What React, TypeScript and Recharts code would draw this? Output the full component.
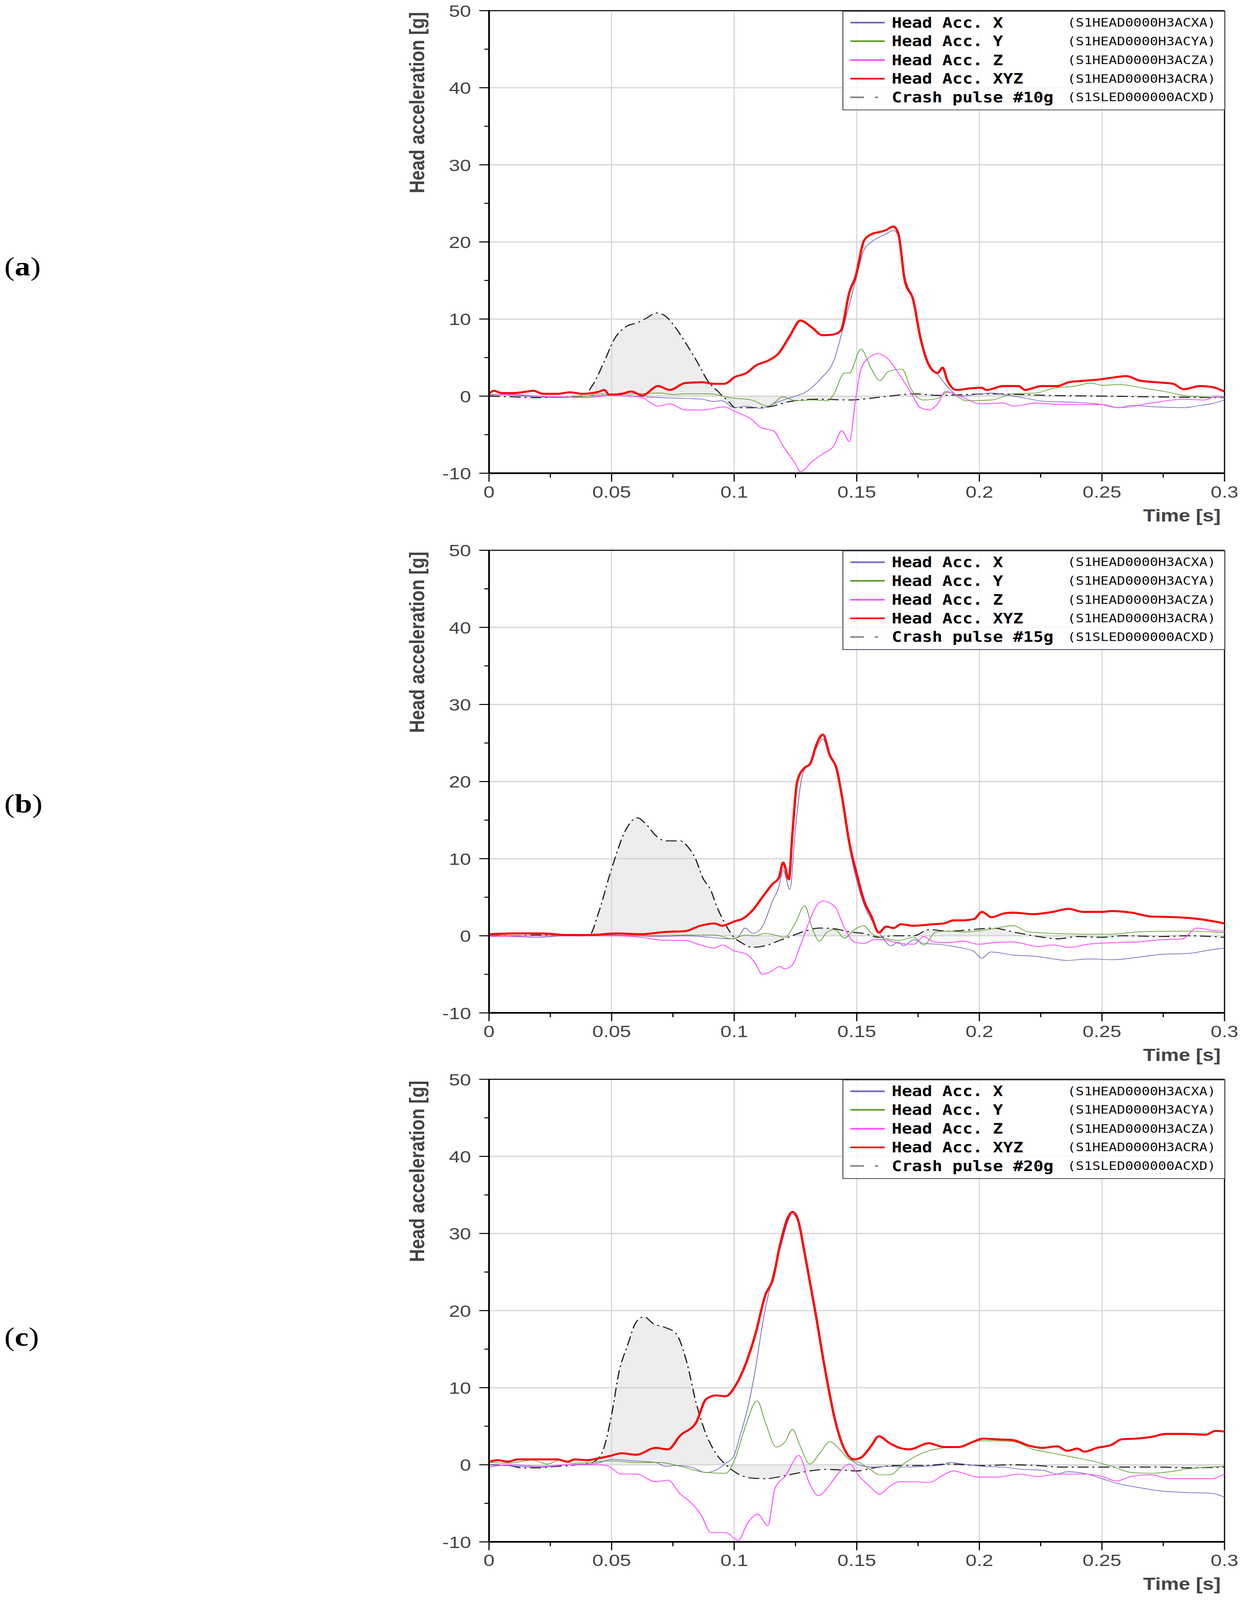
import React from 'react';
import { ComposedChart, Line, Area, XAxis, YAxis, CartesianGrid, ReferenceLine, Legend } from 'recharts';

type P = [number, number];

// ---------- axis ticks ----------
const xMajorTicks = [0, 0.05, 0.1, 0.15, 0.2, 0.25, 0.3];
const xMinorTicks = [0.025, 0.075, 0.125, 0.175, 0.225, 0.275];
const yMajorTicks = [-10, 0, 10, 20, 30, 40, 50];
const yMinorTicks = [-5, 5, 15, 25, 35, 45];
const xTicks = [...xMajorTicks, ...xMinorTicks].sort((a, b) => a - b);
const yTicks = [...yMajorTicks, ...yMinorTicks].sort((a, b) => a - b);

// ---------- legend ----------
const seriesNames = ['Head Acc. X', 'Head Acc. Y', 'Head Acc. Z', 'Head Acc. XYZ'];
const seriesCodes = ['(S1HEAD0000H3ACXA)', '(S1HEAD0000H3ACYA)', '(S1HEAD0000H3ACZA)', '(S1HEAD0000H3ACRA)'];
const seriesColors = ['#7468c4', '#5f9f2f', '#ff4dff', '#ff0000'];
const pulseNames = ['Crash pulse #10g', 'Crash pulse #15g', 'Crash pulse #20g'];
const pulseCode = '(S1SLED000000ACXD)';
const panelLabels = ['a', 'b', 'c'];

// ---------- panel (a) ----------
const aX: P[] = [[0,0.2],[0.01,0.1],[0.02,-0.1],[0.03,-0.2],[0.04,0],[0.05,0.1],[0.06,0],[0.07,-0.2],[0.08,-0.3],[0.087,-0.4],[0.0915,-0.7],[0.095,-0.6],[0.1,-1.5],[0.105,-1.3],[0.111,-1.6],[0.116,-1.0],[0.12,-0.5],[0.125,0],[0.129,0.5],[0.133,1.5],[0.136,2.5],[0.1405,4.5],[0.145,9.5],[0.1495,15.0],[0.153,19.0],[0.156,20.0],[0.1617,21.0],[0.165,21.5],[0.167,20.8],[0.1696,15.5],[0.173,12.5],[0.176,7.5],[0.1795,3.8],[0.183,2.8],[0.187,1.2],[0.192,0],[0.2007,0.3],[0.205,0.4],[0.21,0.2],[0.216,-0.1],[0.2275,-0.7],[0.239,-0.8],[0.25,-1.1],[0.2565,-1.5],[0.262,-1.2],[0.272,-1.4],[0.2833,-1.5],[0.29,-1.2],[0.2946,-1.0],[0.3,-0.5]];
const aY: P[] = [[0,0.2],[0.01,0.2],[0.02,0],[0.03,-0.1],[0.04,0],[0.045,0.3],[0.05,0.2],[0.06,0.3],[0.07,0.4],[0.075,0.2],[0.08,0.3],[0.09,0.3],[0.098,-0.2],[0.107,-0.5],[0.1138,-1.3],[0.12,-0.1],[0.125,-0.6],[0.132,-0.5],[0.138,-0.6],[0.1405,0.2],[0.145,3.0],[0.147,3.0],[0.1517,6.1],[0.156,3.5],[0.1595,2.0],[0.1628,3.2],[0.1685,3.5],[0.172,1.0],[0.177,-0.5],[0.183,-0.3],[0.187,0.5],[0.195,-0.6],[0.205,-0.5],[0.214,0.3],[0.223,0.4],[0.23,1.0],[0.239,1.3],[0.2455,1.7],[0.25,1.4],[0.257,1.5],[0.2677,1.0],[0.2755,0.6],[0.2855,0],[0.3,-0.2]];
const aZ: P[] = [[0,0.1],[0.01,0.2],[0.02,0],[0.03,-0.1],[0.04,-0.2],[0.05,0.1],[0.058,0],[0.0625,-0.2],[0.069,-1.3],[0.0737,-1.0],[0.08,-1.8],[0.087,-1.8],[0.096,-1.4],[0.1004,-2.0],[0.107,-3.0],[0.111,-4.1],[0.116,-4.5],[0.12,-6.5],[0.125,-8.8],[0.127,-9.8],[0.1317,-8.5],[0.136,-7.5],[0.1405,-6.5],[0.1439,-4.5],[0.147,-5.9],[0.1495,-0.5],[0.1517,3.5],[0.155,5.0],[0.1585,5.5],[0.1628,4.8],[0.167,3.0],[0.172,0.5],[0.176,-1.5],[0.1795,-1.8],[0.183,-1.0],[0.1862,0.6],[0.192,0],[0.2007,-1.0],[0.2096,-0.9],[0.214,-1.3],[0.223,-0.9],[0.234,-1.1],[0.25,-1.1],[0.257,-1.5],[0.272,-0.8],[0.2833,-0.4],[0.292,-0.5],[0.2966,0],[0.3,-0.1]];
const aXYZ: P[] = [[0,0.3],[0.002,0.7],[0.005,0.4],[0.01,0.4],[0.0156,0.6],[0.018,0.7],[0.022,0.3],[0.028,0.3],[0.033,0.5],[0.038,0.3],[0.045,0.6],[0.047,0.8],[0.049,0.2],[0.054,0.3],[0.058,0.6],[0.0625,0.1],[0.069,1.3],[0.0737,0.8],[0.08,1.7],[0.087,1.8],[0.0915,1.6],[0.096,1.6],[0.1004,2.5],[0.105,3.0],[0.109,4.0],[0.1138,4.6],[0.118,5.5],[0.1227,7.8],[0.127,9.8],[0.1317,8.9],[0.136,7.9],[0.1405,8.0],[0.1435,8.5],[0.147,13.5],[0.1495,15.5],[0.153,20.2],[0.156,21.0],[0.1595,21.3],[0.1617,21.5],[0.165,22.0],[0.167,21.0],[0.1696,15.0],[0.173,12.5],[0.176,7.5],[0.1795,4.0],[0.183,3.0],[0.185,3.7],[0.187,2.0],[0.1907,0.8],[0.196,1.0],[0.2007,1.1],[0.203,0.8],[0.2096,1.3],[0.216,1.3],[0.2186,0.8],[0.2253,1.3],[0.232,1.3],[0.2364,1.8],[0.243,2.0],[0.25,2.2],[0.2565,2.5],[0.26,2.6],[0.2655,2.0],[0.272,1.8],[0.279,1.6],[0.2833,0.9],[0.29,1.3],[0.2946,1.2],[0.3,0.6]];
const aPulse: P[] = [[0,0],[0.01,-0.1],[0.02,-0.2],[0.03,-0.1],[0.038,0],[0.0424,1.5],[0.047,4.5],[0.0513,7.5],[0.0558,9.0],[0.0602,9.5],[0.0647,10.2],[0.068,10.8],[0.0714,10.5],[0.0758,9.0],[0.08,7.0],[0.0848,4.5],[0.0892,2.0],[0.0937,0.5],[0.098,-0.8],[0.1004,-1.5],[0.107,-1.5],[0.1138,-1.4],[0.1227,-0.7],[0.134,-0.4],[0.147,-0.5],[0.1606,-0.1],[0.174,0.3],[0.183,0.1],[0.205,0.3],[0.2275,0.1],[0.25,0],[0.272,-0.1],[0.3,-0.2]];

// ---------- panel (b) ----------
const bX: P[] = [[0,0],[0.01,-0.1],[0.02,-0.2],[0.03,0],[0.04,0.1],[0.05,0.1],[0.06,0],[0.07,-0.1],[0.08,0],[0.09,-0.2],[0.0984,-0.4],[0.1014,-0.2],[0.1045,1.0],[0.1075,0.3],[0.1115,1.2],[0.1156,4.5],[0.1182,6.3],[0.12,8.5],[0.1227,6.0],[0.125,14],[0.128,21],[0.131,22.5],[0.1338,24.5],[0.1362,25.5],[0.1389,23.3],[0.1419,21.3],[0.144,17.5],[0.147,11.5],[0.153,4],[0.157,1.5],[0.16,0],[0.164,-1.3],[0.167,-0.8],[0.169,-1.3],[0.1733,-0.5],[0.1773,-1.0],[0.1834,-1.1],[0.1915,-1.5],[0.1976,-2.0],[0.201,-2.9],[0.2047,-2.1],[0.2138,-2.5],[0.224,-2.7],[0.23,-3.0],[0.2362,-3.2],[0.2443,-3.0],[0.2544,-3.1],[0.2645,-2.8],[0.2746,-2.4],[0.2848,-2.3],[0.295,-1.8],[0.3,-1.6]];
const bY: P[] = [[0,0.1],[0.02,0],[0.04,0.1],[0.06,0],[0.08,0.1],[0.092,0.1],[0.0994,-0.4],[0.1045,0.1],[0.1085,0],[0.1126,0.3],[0.1166,0.1],[0.1206,-0.2],[0.1247,1.5],[0.1288,3.9],[0.1318,1.0],[0.1348,-0.7],[0.1379,0.5],[0.141,0.8],[0.145,-0.3],[0.149,0.8],[0.153,1.3],[0.156,0.3],[0.1611,-0.3],[0.1672,-0.6],[0.1733,-0.2],[0.1773,-1.2],[0.1824,0.5],[0.1874,0.6],[0.1935,0.5],[0.2037,0.8],[0.2138,1.3],[0.22,0.5],[0.23,0.3],[0.2443,0.2],[0.2544,0.2],[0.2645,0.5],[0.2848,0.6],[0.295,0.5],[0.3,0.4]];
const bZ: P[] = [[0,-0.1],[0.02,0],[0.04,0],[0.0518,0],[0.062,-0.2],[0.072,-0.6],[0.08,-0.6],[0.0862,-1.2],[0.092,-1.6],[0.095,-1.2],[0.1004,-2.0],[0.1045,-2.3],[0.1085,-3.5],[0.1115,-5.0],[0.1146,-4.7],[0.1186,-4.0],[0.1206,-4.3],[0.1237,-3.8],[0.1267,-1.5],[0.1308,2.0],[0.1338,4.0],[0.1362,4.5],[0.141,3.8],[0.145,1.0],[0.149,-0.8],[0.153,-1.0],[0.157,-0.5],[0.1611,-0.5],[0.1672,-1.0],[0.1733,-1.1],[0.1773,-0.1],[0.1814,-0.8],[0.1874,-0.9],[0.1935,-0.7],[0.1996,-1.1],[0.2057,-0.9],[0.2138,-0.8],[0.224,-1.4],[0.23,-1.2],[0.237,-1.5],[0.2443,-1.1],[0.2544,-0.9],[0.2645,-0.8],[0.2746,-0.5],[0.2827,-0.4],[0.2888,1.0],[0.295,0.7],[0.3,0.6]];
const bXYZ: P[] = [[0,0.2],[0.0113,0.3],[0.0215,0.3],[0.0316,0.1],[0.0417,0.1],[0.0518,0.3],[0.062,0.2],[0.072,0.5],[0.08,0.6],[0.0862,1.3],[0.092,1.6],[0.095,1.3],[0.1004,1.9],[0.1034,2.2],[0.1075,3.3],[0.1115,5.0],[0.1156,6.7],[0.1182,7.5],[0.12,9.5],[0.1223,7.3],[0.1237,13],[0.1257,20],[0.1287,21.8],[0.1308,22.2],[0.1338,25],[0.1362,26.1],[0.1389,23.5],[0.1419,21.5],[0.144,18],[0.147,12],[0.15,8],[0.153,4.5],[0.156,2.5],[0.159,0.4],[0.162,1.2],[0.165,1.0],[0.168,1.5],[0.173,1.3],[0.1814,1.5],[0.1855,1.6],[0.1895,2.0],[0.1935,2.0],[0.198,2.2],[0.201,3.1],[0.205,2.4],[0.21,2.9],[0.2138,3.0],[0.222,2.8],[0.23,3.1],[0.2365,3.5],[0.242,3.1],[0.25,3.1],[0.254,3.2],[0.262,3.0],[0.27,2.5],[0.2807,2.4],[0.2888,2.2],[0.295,1.9],[0.3,1.6]];
const bPulse: P[] = [[0,0],[0.01,0],[0.02,0.1],[0.03,0],[0.0407,0],[0.0447,3.0],[0.0498,8.5],[0.0559,13.8],[0.0603,15.3],[0.064,14.5],[0.068,13.0],[0.072,12.3],[0.0781,12.3],[0.0812,11.5],[0.0842,10.0],[0.0872,7.5],[0.0903,6.0],[0.0933,3.5],[0.0964,1.5],[0.0994,0],[0.1035,-1.0],[0.1075,-1.5],[0.1126,-1.3],[0.1186,-0.6],[0.1237,0],[0.1288,0.6],[0.1348,1.0],[0.141,0.9],[0.147,0.5],[0.153,0.3],[0.159,-0.2],[0.165,0],[0.1733,0],[0.1794,0.8],[0.1874,0.6],[0.1935,0.7],[0.2057,1.0],[0.2138,0.5],[0.224,-0.1],[0.232,-0.4],[0.24,-0.1],[0.25,-0.2],[0.2585,0],[0.2746,-0.1],[0.2848,0],[0.3,-0.2]];

// ---------- panel (c) ----------
const cX: P[] = [[0,0],[0.0117,-0.2],[0.0218,-0.3],[0.032,0],[0.044,0.2],[0.05,0.7],[0.06,0.5],[0.068,0.3],[0.072,-0.2],[0.0763,-0.1],[0.0824,-0.3],[0.0885,-1.0],[0.0925,-0.7],[0.0966,0.2],[0.0996,1.0],[0.1026,4.0],[0.1056,7.5],[0.1087,12.5],[0.1117,18.5],[0.1157,24.5],[0.1187,28.0],[0.1238,32.5],[0.1258,31.7],[0.129,26.7],[0.133,19.8],[0.137,12.3],[0.141,5.8],[0.145,2.0],[0.149,0.3],[0.153,-0.2],[0.157,-0.3],[0.1634,-0.2],[0.1694,-0.3],[0.1774,-0.2],[0.1855,0],[0.1874,0.3],[0.1935,0.1],[0.2015,-0.2],[0.2096,-0.3],[0.2178,-0.6],[0.2257,-0.7],[0.2318,-1.2],[0.2358,-0.9],[0.2438,-1.2],[0.25,-1.8],[0.256,-2.4],[0.264,-2.9],[0.274,-3.4],[0.2843,-3.6],[0.2945,-3.7],[0.3,-4.2]];
const cY: P[] = [[0,0.3],[0.0077,0.2],[0.0177,0.6],[0.0238,0.1],[0.0288,0.6],[0.034,0.2],[0.04,0.3],[0.05,0.5],[0.06,0.3],[0.07,0.3],[0.078,-0.2],[0.0885,-1.0],[0.0966,-1.1],[0.1006,1.0],[0.1046,5.0],[0.1094,8.3],[0.1127,5.5],[0.1172,2.3],[0.1208,3.0],[0.1238,4.6],[0.1268,2.5],[0.1308,0.1],[0.1349,1.5],[0.139,3.0],[0.143,2.0],[0.147,0.7],[0.151,0.3],[0.155,-0.5],[0.1593,-1.3],[0.1634,-1.3],[0.1694,0.2],[0.1774,1.6],[0.1855,2.2],[0.1935,2.4],[0.1996,3.1],[0.2057,3.1],[0.2138,3.0],[0.222,2.0],[0.23,1.5],[0.238,1.0],[0.246,0.5],[0.254,-0.2],[0.262,-1.0],[0.27,-1.1],[0.2778,-0.9],[0.2858,-0.5],[0.2945,-0.3],[0.3,-0.2]];
const cZ: P[] = [[0,-0.3],[0.0077,0],[0.0218,-0.2],[0.032,0],[0.044,0],[0.048,-0.1],[0.054,-1.2],[0.06,-1.2],[0.068,-2.2],[0.073,-2.0],[0.078,-3.8],[0.082,-4.8],[0.0865,-6.5],[0.0905,-8.8],[0.0966,-8.8],[0.1016,-9.8],[0.1056,-7.5],[0.1097,-6.4],[0.1137,-7.9],[0.1167,-3.0],[0.1208,-1.5],[0.1264,1.2],[0.1308,-2.5],[0.1343,-4.0],[0.138,-3.0],[0.142,-1.3],[0.147,0.1],[0.151,-1.5],[0.155,-2.7],[0.1593,-3.8],[0.1634,-2.8],[0.1674,-2.2],[0.1734,-2.2],[0.1794,-2.3],[0.1855,-1.3],[0.1895,-0.8],[0.1935,-1.1],[0.1996,-1.6],[0.2076,-1.6],[0.2158,-1.2],[0.2237,-1.5],[0.2337,-1.2],[0.2418,-1.2],[0.25,-1.5],[0.256,-2.1],[0.262,-1.5],[0.27,-1.3],[0.2778,-1.8],[0.2858,-1.8],[0.2945,-1.8],[0.3,-1.2]];
const cXYZ: P[] = [[0,0.4],[0.0036,0.6],[0.0077,0.4],[0.0117,0.7],[0.0218,0.7],[0.0278,0.7],[0.032,0.4],[0.035,0.7],[0.04,0.6],[0.044,0.8],[0.05,1.2],[0.054,1.5],[0.06,1.3],[0.068,2.2],[0.073,2.0],[0.078,3.8],[0.0845,5.5],[0.0885,8.5],[0.0925,9.0],[0.0966,8.9],[0.1006,10.3],[0.1046,13.0],[0.1087,17.0],[0.1127,22.0],[0.1157,24.0],[0.1187,28.5],[0.1218,32.0],[0.1238,32.8],[0.1258,32.0],[0.129,27],[0.133,20],[0.137,12.5],[0.141,6.0],[0.145,2.0],[0.149,0.7],[0.152,1.0],[0.156,2.5],[0.159,3.7],[0.1634,2.8],[0.1674,2.2],[0.1714,2.0],[0.1794,2.8],[0.1855,2.3],[0.1915,2.3],[0.1976,3.0],[0.2015,3.4],[0.2076,3.3],[0.2138,3.2],[0.22,2.5],[0.2257,2.2],[0.2318,2.4],[0.2358,1.8],[0.24,2.1],[0.2428,1.7],[0.248,2.2],[0.254,2.6],[0.258,3.3],[0.264,3.4],[0.27,3.6],[0.276,4.0],[0.2843,4.0],[0.2923,3.9],[0.2964,4.4],[0.3,4.3]];
const cPulse: P[] = [[0,0],[0.008,-0.1],[0.0137,-0.4],[0.0194,-0.4],[0.028,-0.2],[0.036,0],[0.042,0.3],[0.046,1.5],[0.05,6.5],[0.053,12.0],[0.0565,15.5],[0.06,18.5],[0.0632,19.2],[0.067,18.3],[0.072,17.8],[0.0763,17.0],[0.0805,13.5],[0.0845,8.0],[0.0885,4.0],[0.0925,1.5],[0.0966,0],[0.1006,-1.0],[0.1066,-1.7],[0.1127,-1.8],[0.1208,-1.4],[0.129,-0.9],[0.137,-0.6],[0.145,-0.7],[0.15,-0.8],[0.157,-0.4],[0.1654,-0.1],[0.1774,-0.1],[0.1874,0.1],[0.2015,-0.1],[0.2138,0],[0.2237,-0.1],[0.2337,-0.3],[0.2438,-0.3],[0.254,-0.3],[0.264,-0.3],[0.274,-0.3],[0.2843,-0.4],[0.3,-0.3]];

const toRows = (pts: P[]) => pts.map(([t, v]) => ({ t, v }));

const panels = [
  { series: [aX, aY, aZ, aXYZ], pulse: aPulse },
  { series: [bX, bY, bZ, bXYZ], pulse: bPulse },
  { series: [cX, cY, cZ, cXYZ], pulse: cPulse },
];

// ---------- layout constants ----------
const PAGE_W = 3190;
const PAGE_H = 4818;
// the browser viewport is only 4096 px tall, so the 4818 px figure is fitted vertically
const VIEW_H = 4096;
const FIT_Y = VIEW_H / PAGE_H;
const CHART_HEIGHTS = [1625, 1593, 1600];
const MARGIN = { top: 32, right: 55, left: 1052 };
const Y_AXIS_W = 200;
const X_AXIS_H = 100;
const X_TICK_SIZE = 25;
const X_TICK_MARGIN = 12;
const Y_TICK_SIZE = 25;
const Y_TICK_MARGIN = 21;
const PLOT_H = 1393;
const lineWidths = [2, 2, 2.5, 6];
const TICK_FONT = { fontFamily: '"Liberation Sans", Arial, sans-serif', fontSize: 51, fill: '#444' };
const LABEL_FONT = { fontFamily: '"Liberation Sans", Arial, sans-serif', fontWeight: 700, fill: '#444' };
const labelBaselines = [829, 2447, 4052];

const fmt = (v: number) => String(v);

const XTick = (props: any) => {
  const { x, y, payload } = props;
  const major = xMajorTicks.includes(payload.value);
  const axisY = y - X_TICK_SIZE - X_TICK_MARGIN;
  return (
    <g>
      <line x1={x} x2={x} y1={axisY} y2={axisY + (major ? X_TICK_SIZE : 13)} stroke="#000" strokeWidth={3} />
      {major && (
        <text x={x} y={y} dy="0.71em" textAnchor="middle" {...TICK_FONT}>
          {fmt(payload.value)}
        </text>
      )}
    </g>
  );
};

const YTick = (props: any) => {
  const { x, y, payload } = props;
  const major = yMajorTicks.includes(payload.value);
  const axisX = x + Y_TICK_SIZE + Y_TICK_MARGIN;
  return (
    <g>
      <line x1={axisX - (major ? Y_TICK_SIZE : 12)} x2={axisX} y1={y} y2={y} stroke="#000" strokeWidth={3} />
      {major && (
        <text x={x} y={y} dy="0.36em" textAnchor="end" {...TICK_FONT}>
          {fmt(payload.value)}
        </text>
      )}
    </g>
  );
};

const YLabel = (props: any) => {
  const vb = props.viewBox;
  const x = vb.x + vb.width - 166;
  const y = vb.y + 4;
  return (
    <text x={x} y={y} textAnchor="end" transform={`rotate(-90, ${x}, ${y})`} fontSize={54} {...LABEL_FONT}>
      Head acceleration [g]
    </text>
  );
};

const XLabel = (props: any) => {
  const vb = props.viewBox;
  return (
    <text x={vb.x + vb.width - 10} y={vb.y + 145} textAnchor="end" fontSize={52} {...LABEL_FONT}>
      Time [s]
    </text>
  );
};

const LegendBox = ({ pulseName }: { pulseName: string }) => {
  const rows = [
    ...seriesNames.map((n, i) => ({ name: n, code: seriesCodes[i], color: seriesColors[i], dash: undefined as string | undefined })),
    { name: pulseName, code: pulseCode, color: '#888', dash: '35 28 8 60' },
  ];
  return (
    <div
      style={{
        width: 980,
        height: 299,
        border: '2.5px solid #1c2c3c',
        background: 'rgba(255,255,255,0.82)',
        boxSizing: 'border-box',
        position: 'relative',
      }}
    >
      {rows.map((r, i) => (
        <div key={i} style={{ position: 'absolute', left: 0, top: 33 + i * 56.3 - 28, height: 56, width: '100%' }}>
          <svg style={{ position: 'absolute', left: 18, top: 0 }} width={92} height={56}>
            <line x1={0} x2={r.dash ? 72 : 88} y1={28} y2={28} stroke={r.color} strokeWidth={5} strokeDasharray={r.dash} />
          </svg>
          <span
            style={{
              position: 'absolute',
              left: 124,
              top: 0,
              lineHeight: '56px',
              fontFamily: '"DejaVu Sans Mono", monospace',
              fontWeight: 700,
              fontSize: 43,
              color: '#000',
              whiteSpace: 'pre',
            }}
          >
            {r.name}
          </span>
          <span
            style={{
              position: 'absolute',
              left: 574,
              top: 0,
              lineHeight: '56px',
              fontFamily: '"DejaVu Sans Mono", monospace',
              fontSize: 35,
              color: '#111',
              whiteSpace: 'pre',
            }}
          >
            {r.code}
          </span>
        </div>
      ))}
    </div>
  );
};

const Panel = ({ idx }: { idx: number }) => {
  const p = panels[idx];
  const h = CHART_HEIGHTS[idx];
  const bottom = h - MARGIN.top - PLOT_H - X_AXIS_H;
  return (
    <ComposedChart width={PAGE_W} height={h} margin={{ ...MARGIN, bottom }}>
      <CartesianGrid vertical={false} horizontalValues={yMajorTicks} stroke="#d9d9d9" strokeWidth={4} />
      <CartesianGrid horizontal={false} verticalValues={xMajorTicks} stroke="#d2d2d2" strokeWidth={2.5} />
      <XAxis
        type="number"
        dataKey="t"
        domain={[0, 0.3]}
        ticks={xTicks}
        interval={0}
        height={X_AXIS_H}
        tickSize={X_TICK_SIZE}
        tickMargin={X_TICK_MARGIN}
        tickLine={false}
        tick={(tp: any) => <XTick {...tp} />}
        axisLine={{ stroke: '#000', strokeWidth: 5 }}
        allowDataOverflow
        label={(lp: any) => <XLabel {...lp} />}
      />
      <YAxis
        type="number"
        dataKey="v"
        domain={[-10, 50]}
        ticks={yTicks}
        interval={0}
        width={Y_AXIS_W}
        tickSize={Y_TICK_SIZE}
        tickMargin={Y_TICK_MARGIN}
        tickLine={false}
        tick={(tp: any) => <YTick {...tp} />}
        axisLine={{ stroke: '#000', strokeWidth: 4.5 }}
        allowDataOverflow
        label={(lp: any) => <YLabel {...lp} />}
      />
      <ReferenceLine y={50} stroke="#000" strokeWidth={3} />
      <ReferenceLine x={0.3} stroke="#000" strokeWidth={3} />
      {p.series.map((s, i) => (
        <Line
          key={i}
          data={toRows(s)}
          dataKey="v"
          name={seriesNames[i]}
          type="monotone"
          stroke={seriesColors[i]}
          strokeWidth={lineWidths[i]}
          dot={false}
          activeDot={false}
          isAnimationActive={false}
        />
      ))}
      <Area
        data={toRows(p.pulse)}
        dataKey="v"
        name={pulseNames[idx]}
        type="monotone"
        baseValue={0}
        stroke="#1a1a1a"
        strokeWidth={3}
        strokeDasharray="28 10 5 10"
        fill="#cfcfcf"
        fillOpacity={0.38}
        dot={false}
        activeDot={false}
        isAnimationActive={false}
      />
      <Legend
        layout="vertical"
        align="center"
        verticalAlign="middle"
        wrapperStyle={{ left: 2157, top: 33, width: 980, height: 299 }}
        content={() => <LegendBox pulseName={pulseNames[idx]} />}
      />
    </ComposedChart>
  );
};

export default function App() {
  return (
    <div style={{ position: 'relative', margin: -8, width: PAGE_W, height: VIEW_H, background: '#fff', overflow: 'hidden' }}>
      <div
        style={{
          position: 'absolute',
          left: 0,
          top: 0,
          width: PAGE_W,
          height: PAGE_H,
          transform: `scale(1, ${FIT_Y})`,
          transformOrigin: '0 0',
        }}
      >
        {panels.map((_, i) => (
          <div key={i} style={{ position: 'relative', width: PAGE_W, height: CHART_HEIGHTS[i] }}>
            <Panel idx={i} />
          </div>
        ))}
        <svg style={{ position: 'absolute', left: 0, top: 0 }} width={200} height={PAGE_H}>
          {panelLabels.map((l, i) => (
            <text key={l} x={11} y={labelBaselines[i]} fontFamily='"Liberation Serif", "Times New Roman", serif' fontSize={80} fill="#000">
              (<tspan fontWeight={700}>{l}</tspan>)
            </text>
          ))}
        </svg>
      </div>
    </div>
  );
}
